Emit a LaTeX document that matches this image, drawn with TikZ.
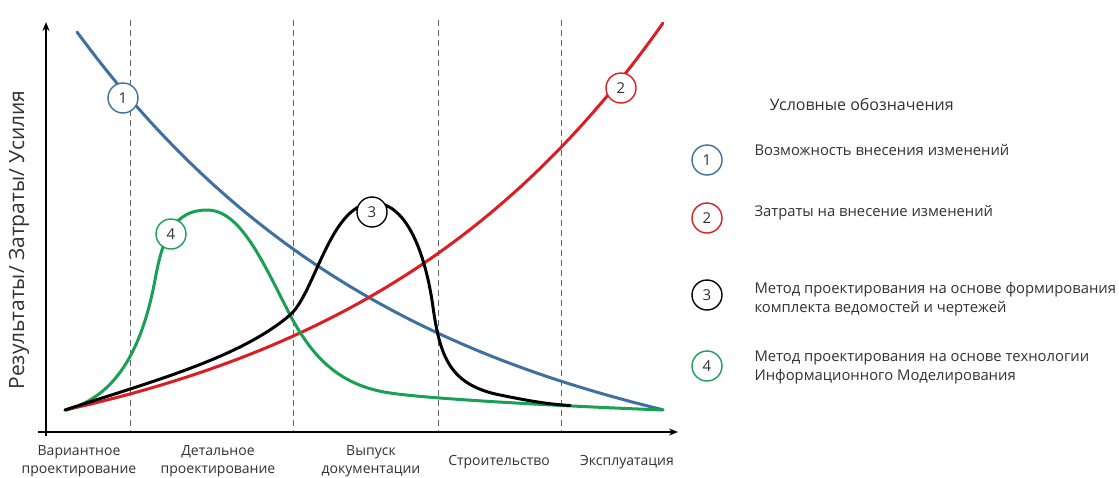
\documentclass[tikz,border=0pt]{standalone}
\usepackage{fontspec}
\setmainfont{Open Sans}
\usetikzlibrary{arrows.meta}
\definecolor{cblue}{RGB}{62,112,160}
\definecolor{cred}{RGB}{220,30,35}
\definecolor{cgreen}{RGB}{25,160,85}
\definecolor{cgray}{RGB}{100,100,100}
\definecolor{ctext}{RGB}{50,50,50}
\tikzset{
  curve/.style={line width=3pt, line cap=round, line join=round},
  axis/.style={line width=2.2pt, -{Stealth[length=9pt,width=7pt]}},
  divider/.style={cgray, line width=0.9pt, dash pattern=on 6pt off 4pt},
  badge/.style={circle, fill=white, line width=1.4pt, minimum size=30pt, inner sep=0pt, text=ctext, font=\fontsize{15}{15}\selectfont},
  legtext/.style={anchor=west, align=left, text=ctext, font=\fontsize{14.8}{19}\selectfont},
  phase/.style={align=center, text=ctext, font=\fontsize{14}{18}\selectfont}
}
\begin{document}
\begin{tikzpicture}[x=1pt,y=-1pt]
\useasboundingbox[fill=white] (0,0) rectangle (1119,477);
% dividers
\foreach \xx in {130,293,438,561} \draw[divider] (\xx,20) -- (\xx,432);
% axes
\coordinate (o1) at (46,436);
\coordinate (ytop) at (46,22);
\coordinate (o2) at (38,432);
\coordinate (xend) at (678,432);
\draw[axis] (o1) -- (ytop);
\draw[axis] (o2) -- (xend);
% curve 1: possibility of changes
\draw[curve, cblue] plot[domain=77:663, samples=90] (\x, {410 - (448*exp(-0.003027*(\x-77)) - 70) + 6*(\x-77)/586});
% curve 2: cost of changes
\draw[curve, cred] plot[domain=65:663, samples=90] (\x, {410 - 72*(exp(0.0031*(\x-65)) - 1)});
% curve 4: BIM
\draw[curve, cgreen] (66,410) .. controls (110,398) and (140,360) .. (155,280)
  .. controls (163,235) and (175,210) .. (207,210)
  .. controls (240,210) and (262,260) .. (290,315)
  .. controls (310,352) and (335,385) .. (390,393)
  .. controls (430,399) and (560,406) .. (663,410);
% curve 3: drawings-based
\draw[curve, black] (65,410) .. controls (150,382) and (240,358) .. (290,315)
  .. controls (315,293) and (330,205) .. (372,203)
  .. controls (405,201) and (425,250) .. (433,307)
  .. controls (440,357) and (450,385) .. (500,395)
  .. controls (525,400) and (545,404) .. (570,405.5);
% badges on curves
\node[badge, draw=cblue] (b1) at (123,98) {1};
\node[badge, draw=cred] (b2) at (621,88) {2};
\node[badge, draw=black] (b3) at (372,212) {3};
\node[badge, draw=cgreen] (b4) at (171,234) {4};
% axis label
\node[rotate=90, text=ctext, font=\fontsize{21}{21}\selectfont] (ylab) at (19,240) {Результаты/ Затраты/ Усилия};
% phase labels
\node[phase] (p1) at (79,461) {Вариантное\\проектирование};
\node[phase] (p2) at (218,461) {Детальное\\проектирование};
\node[phase] (p3) at (371,461) {Выпуск\\документации};
\node[phase] (p4) at (499,462) {Строительство};
\node[phase] (p5) at (627,462) {Эксплуатация};
% legend
\node[anchor=west, text=ctext, font=\fontsize{16}{16}\selectfont] (lt) at (766,104) {Условные обозначения};
\node[badge, draw=cblue] (l1) at (707,160) {1};
\node[badge, draw=cred] (l2) at (707,218) {2};
\node[badge, draw=black] (l3) at (707,295) {3};
\node[badge, draw=cgreen] (l4) at (707,366) {4};
\node[legtext] (t1) at (751,150) {Возможность внесения изменений};
\node[legtext] (t2) at (751,213) {Затраты на внесение изменений};
\node[legtext] (t3) at (751,299) {Метод проектирования на основе формирования\\комплекта ведомостей и чертежей};
\node[legtext] (t4) at (751,367) {Метод проектирования на основе технологии\\Информационного Моделирования};
\end{tikzpicture}
\end{document}
